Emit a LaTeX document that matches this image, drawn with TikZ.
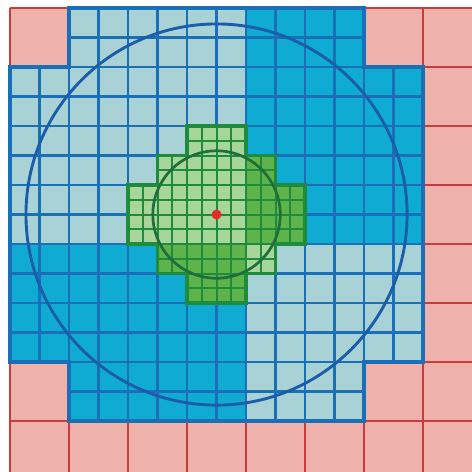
\documentclass[tikz,border=0pt]{standalone}
\usepackage{xcolor}
\usepackage{tikz}
\usetikzlibrary{calc}
\definecolor{pink1}{HTML}{EFB1AC}
\definecolor{red1}{HTML}{C83C3C}
\definecolor{lightblue1}{HTML}{A9D2D6}
\definecolor{darkblue1}{HTML}{10ABD3}
\definecolor{blueline}{HTML}{1A6FB6}
\definecolor{ringblue}{HTML}{1B5DA8}
\definecolor{lightgreen1}{HTML}{A8D69A}
\definecolor{darkgreen1}{HTML}{5EB44B}
\definecolor{greenline}{HTML}{1E8C3C}
\definecolor{ringgreen}{HTML}{1F6E3C}
\definecolor{dot1}{HTML}{E52A2A}
% outlines of the two refined regions
\newcommand{\midcells}{(1,0) -| (6,-1) -| (7,-6) -| (6,-7) -| (1,-6) -| (0,-1) -| (1,0) -- cycle}
\newcommand{\finecells}{(3,-2) -| (4,-2.5) -| (4.5,-3) -| (5,-4) -| (4.5,-4.5) -| (4,-5)
  -| (3,-4.5) -| (2.5,-4) -| (2,-3) -| (2.5,-2.5) -| (3,-2) -- cycle}

\begin{document}
\begin{tikzpicture}[x=1cm,y=1cm,
    coarse/.style={red1,line width=0.75pt},
    midgrid/.style={blueline,line width=1.05pt},
    finegrid/.style={greenline,line width=0.95pt},
    edge/.style={line width=1.5pt,line join=miter}]
  \useasboundingbox (-0.17,0.136) rectangle (7.83,-7.847);
  \clip (-0.17,0.136) rectangle (7.83,-7.847);
  \coordinate (c) at (3.5,-3.5);
  % coarse cells
  \fill[pink1] (0,0) rectangle (8.5,-8.5);
  \draw[coarse] (0,-8.5) grid (8.5,0);
  % cells split in two
  \begin{scope}
    \clip \midcells;
    \fill[lightblue1] (0,0) rectangle (7,-7);
    \fill[darkblue1] (4,0) rectangle (7,-4);
    \fill[darkblue1] (0,-4) rectangle (4,-7);
    \draw[midgrid,step=0.5] (0,-7) grid (7,0);
  \end{scope}
  \draw[edge,blueline] \midcells;
  % cells split in four
  \begin{scope}
    \clip \finecells;
    \fill[lightgreen1] (2,-2) rectangle (5,-5);
    \fill[darkgreen1] (4,-2) rectangle (5,-4);
    \fill[darkgreen1] (2,-4) rectangle (4,-5);
    \draw[finegrid,step=0.25] (2,-5) grid (5,-2);
  \end{scope}
  \draw[edge,greenline] \finecells;
  % near and far circles
  \draw[ringblue,line width=1.4pt] (c) circle[radius=3.23];
  \draw[ringgreen,line width=1.3pt] (c) circle[radius=1.08];
  \fill[dot1] (c) circle[radius=0.085];
\end{tikzpicture}
\end{document}
